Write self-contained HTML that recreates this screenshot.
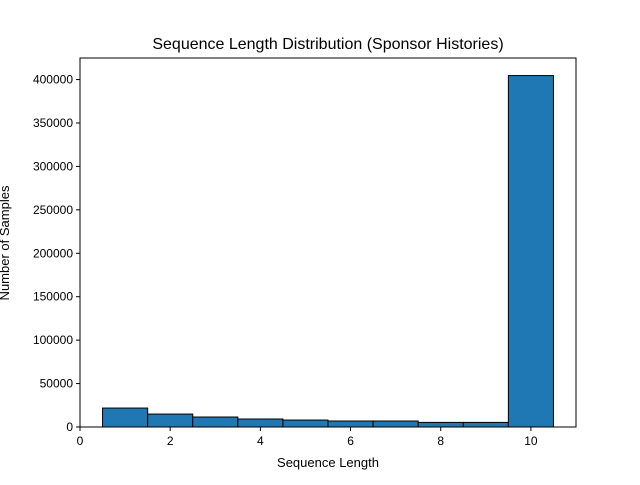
<!DOCTYPE html>
<html><head><meta charset="utf-8"><style>body{margin:0;background:#fff}svg{font-family:"Liberation Sans","DejaVu Sans",sans-serif}</style></head>
<body>
<svg id="chart" width="640" height="480">
<rect width="640" height="480" fill="#fff"/>
<text x="328" y="49" text-anchor="middle" font-size="16">Sequence Length Distribution (Sponsor Histories)</text>
<g id="bars"></g><g id="axes"></g>
<text x="328" y="467" text-anchor="middle" font-size="13">Sequence Length</text>
<text transform="translate(9,243) rotate(-90)" text-anchor="middle" font-size="13">Number of Samples</text>
</svg>
<script>
const categories=[1,2,3,4,5,6,7,8,9,10];
const counts=[21800,14900,11500,9200,8000,6900,6900,5300,5300,404600];
const xTicks=[0,2,4,6,8,10];
const yTicks=[0,50000,100000,150000,200000,250000,300000,350000,400000];
const L=80,R=576,T=58,B=427,xmax=11,ymax=Math.max(...counts)*1.05;
const sx=v=>L+v/xmax*(R-L), sy=v=>B-v/ymax*(B-T);
const NS="http://www.w3.org/2000/svg";
function mk(t,a,p){const e=document.createElementNS(NS,t);for(const k in a)e.setAttribute(k,a[k]);p.appendChild(e);return e;}
const bars=document.getElementById('bars'),axes=document.getElementById('axes');
categories.forEach((c,i)=>{const x0=sx(c-0.5),x1=sx(c+0.5),y=sy(counts[i]);
const r=mk('rect',{x:x0,y:y,width:x1-x0,height:B-y,fill:'#1f77b4',stroke:'#000','stroke-width':1},bars);

});
const f=mk('rect',{x:L,y:T,width:R-L,height:B-T,fill:'none',stroke:'#000','stroke-width':1},axes);


xTicks.forEach(v=>{const x=sx(v);mk('line',{x1:x,x2:x,y1:B,y2:B+4,stroke:'#000'},axes);
const t=mk('text',{x:x,y:B+18,'text-anchor':'middle','font-size':12},axes);t.textContent=v;

});
yTicks.forEach(v=>{const y=sy(v);mk('line',{x1:L-4,x2:L,y1:y,y2:y,stroke:'#000'},axes);
const t=mk('text',{x:L-7,y:y+4,'text-anchor':'end','font-size':12},axes);t.textContent=v;

});
</script>
</body></html>
